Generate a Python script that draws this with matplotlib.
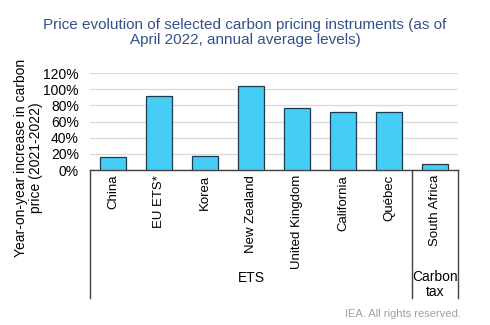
import matplotlib.pyplot as plt
import numpy as np

plt.rcParams['font.family'] = ['Liberation Sans', 'DejaVu Sans']

# data
countries = ['China', 'EU ETS*', 'Korea', 'New Zealand', 'United Kingdom',
             'California', 'Québec', 'South Africa']
increase = [16, 92, 17, 104, 77, 72, 72, 7]
groups = ['ETS', 'Carbon\ntax']
group_spans = [(-0.5, 6.5), (6.5, 7.5)]
yticks = [0, 20, 40, 60, 80, 100, 120]

fig = plt.figure(figsize=(4.9, 3.25), dpi=100)
ax = fig.add_axes([90 / 490, 1 - 170 / 325, 368 / 490, 97 / 325])

x = np.arange(len(countries))
ax.bar(x, increase, width=0.58, color='#45CDF5', edgecolor='#1F3A4D', linewidth=0.9, zorder=3)

ax.set_xlim(-0.5, len(countries) - 0.5)
ax.set_ylim(0, 120)
ax.set_yticks(yticks)
ax.set_yticklabels([f'{v}%' for v in yticks], fontsize=10)
ax.yaxis.grid(True, color='#D9D9D9', linewidth=0.9, zorder=0)
ax.tick_params(axis='y', length=0, pad=8)
ax.tick_params(axis='x', length=0)
ax.set_xticks(x)
ax.set_xticklabels(countries, rotation=90, fontsize=9.5, va='top')
for s in ['top', 'right', 'left']:
    ax.spines[s].set_visible(False)
ax.spines['bottom'].set_color('#404040')
ax.spines['bottom'].set_linewidth(1.0)

# group dividers and labels below the axis
tr = ax.get_xaxis_transform()
for xd in [-0.5, 6.5, 7.5]:
    ax.plot([xd, xd], [0, -1.32], transform=tr, color='#404040', lw=1.0, clip_on=False)
ax.text(np.mean(group_spans[0]), -1.11, groups[0], transform=tr, ha='center', va='center', fontsize=10)
ax.text(np.mean(group_spans[1]), -1.18, groups[1], transform=tr, ha='center', va='center',
        fontsize=10, linespacing=1.1)

fig.text(0.5, 0.9, 'Price evolution of selected carbon pricing instruments (as of\nApril 2022, annual average levels)',
         ha='center', va='center', fontsize=11, color='#34508C', linespacing=1.15)
fig.text(0.058, 0.515, 'Year-on-year increase in carbon\nprice (2021-2022)', rotation=90,
         ha='center', va='center', fontsize=10, linespacing=1.1)
fig.text(0.94, 0.035, 'IEA. All rights reserved.', ha='right', va='center', fontsize=8, color='#A0A0A0')

fig.savefig('out.png', dpi=100)
